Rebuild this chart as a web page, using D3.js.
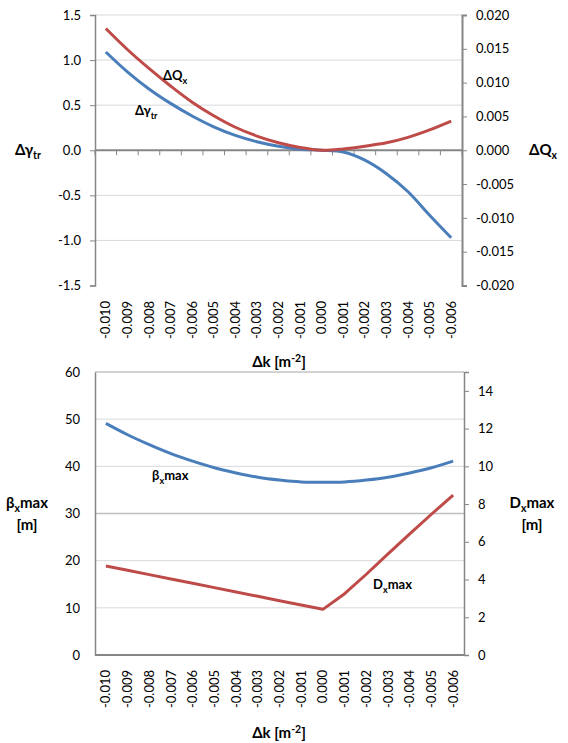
<!DOCTYPE html>
<html><head><meta charset="utf-8">
<script src="https://cdn.jsdelivr.net/npm/d3@7"></script>
<style>
body{margin:0;background:#fff}
svg{display:block}
text{font-family:Lato,"Liberation Sans",sans-serif;fill:#000}
</style>
</head><body>
<svg id="c" width="568" height="743"></svg>
<script>
// ---- data ----
const categories = ["-0.010","-0.009","-0.008","-0.007","-0.006","-0.005","-0.004","-0.003","-0.002","-0.001","0.000","-0.001","-0.002","-0.003","-0.004","-0.005","-0.006"];
const gammaTr = [1.09,0.87,0.68,0.52,0.38,0.26,0.165,0.095,0.045,0.012,0.0,-0.02,-0.11,-0.26,-0.46,-0.72,-0.97];
const deltaQx = [0.0180,0.0149,0.0121,0.0095,0.0071,0.0051,0.0034,0.0021,0.0011,0.0004,0.0,0.0002,0.0006,0.0011,0.0019,0.0030,0.0043];
const betaXmax = [49.1,46.7,44.6,42.7,41.1,39.7,38.6,37.7,37.1,36.7,36.6,36.7,37.1,37.7,38.6,39.7,41.1];
const dXmax = [4.72,4.49,4.26,4.03,3.80,3.57,3.34,3.11,2.88,2.65,2.42,3.25,4.28,5.36,6.42,7.46,8.48];
const topLeftTicks = [-1.5,-1.0,-0.5,0.0,0.5,1.0,1.5];
const topRightTicks = [-0.020,-0.015,-0.010,-0.005,0.000,0.005,0.010,0.015,0.020];
const botLeftTicks = [0,10,20,30,40,50,60];
const botRightTicks = [0,2,4,6,8,10,12,14];

const BLUE = "#4a7ebb", RED = "#be4b48", GRID = "#d9d9d9", AXIS = "#868686";
const svg = d3.select("#c");
const idx = categories.map((c,i)=>i);

function richText(g, x, y, parts, opts) {
  const t = g.append("text").attr("x", x).attr("y", y)
    .attr("font-weight", "bold").attr("font-size", opts.size)
    .attr("text-anchor", opts.anchor || "start");
  let shift = 0;
  parts.forEach(p => {
    const ts = t.append("tspan").text(p.t);
    const target = p.sub ? 4 : (p.sup ? -5 : 0);
    if (target !== shift) { ts.attr("dy", target - shift); shift = target; }
    if (p.sub || p.sup) ts.attr("font-size", opts.size * 0.7);
  });
  return t;
}

function xLabels(g, x, yTop) {
  idx.forEach(i => {
    g.append("text")
      .attr("transform", `translate(${x(i) + x.bandwidth()/2},${yTop}) rotate(-90)`)
      .attr("text-anchor", "end").attr("dy", "0.35em")
      .attr("font-size", 13).text(categories[i]);
  });
}

// ================= TOP CHART =================
{
  const g = svg.append("g");
  const x = d3.scaleBand().domain(idx).range([95, 462]);
  const yL = d3.scaleLinear().domain([-1.5, 1.5]).range([285.5, 15]);
  const yR = d3.scaleLinear().domain([-0.02, 0.02]).range([285.5, 15]);

  g.selectAll(".grid").data(topLeftTicks.filter(v => v !== 0 && v !== -1.5)).join("line")
    .attr("x1", 95).attr("x2", 462).attr("y1", d => yL(d)).attr("y2", d => yL(d))
    .attr("stroke", GRID).attr("stroke-width", 1);

  const la = g.append("g").attr("transform", "translate(95,0)")
    .call(d3.axisLeft(yL).tickValues(topLeftTicks).tickFormat(d => d.toFixed(1)).tickSize(5).tickPadding(9));
  la.select(".domain").attr("stroke", AXIS).attr("stroke-width", 1.5);
  la.selectAll(".tick line").attr("stroke", AXIS);
  la.selectAll(".tick text").attr("font-size", 13).attr("font-family", "Lato");

  const ra = g.append("g").attr("transform", "translate(462,0)")
    .call(d3.axisRight(yR).tickValues(topRightTicks).tickFormat(d => d.toFixed(3)).tickSize(5).tickPadding(9));
  ra.select(".domain").attr("stroke", AXIS).attr("stroke-width", 2);
  ra.selectAll(".tick line").attr("stroke", AXIS);
  ra.selectAll(".tick text").attr("font-size", 13).attr("font-family", "Lato");

  g.append("line").attr("x1", 95).attr("x2", 462).attr("y1", yL(0)).attr("y2", yL(0))
    .attr("stroke", AXIS).attr("stroke-width", 2);
  d3.range(idx.length + 1).forEach(i => {
    const bx = 95 + i * x.step();
    g.append("line").attr("x1", bx).attr("x2", bx).attr("y1", yL(0)).attr("y2", yL(0) + 5)
      .attr("stroke", AXIS).attr("stroke-width", 1);
  });
  xLabels(g, x, 301);

  const cx = i => x(i) + x.bandwidth()/2;
  g.append("path").datum(idx).attr("fill", "none").attr("stroke", BLUE).attr("stroke-width", 3)
    .attr("stroke-linejoin", "round")
    .attr("d", d3.line().x(cx).y(i => yL(gammaTr[i])).curve(d3.curveCatmullRom.alpha(0.5)));
  g.append("path").datum(idx).attr("fill", "none").attr("stroke", RED).attr("stroke-width", 3)
    .attr("stroke-linejoin", "round")
    .attr("d", d3.line().x(cx).y(i => yR(deltaQx[i])).curve(d3.curveCatmullRom.alpha(0.5)));

  richText(g, 15, 155, [{t:"Δγ"},{t:"tr",sub:true}], {size:15});
  richText(g, 529, 155, [{t:"ΔQ"},{t:"x",sub:true}], {size:15});
  richText(g, 163, 80, [{t:"ΔQ"},{t:"x",sub:true}], {size:13});
  richText(g, 135, 115, [{t:"Δγ"},{t:"tr",sub:true}], {size:13});
  richText(g, 279, 367, [{t:"Δk [m"},{t:"-2",sup:true},{t:"]"}], {size:15, anchor:"middle"});
}

// ================= BOTTOM CHART =================
{
  const g = svg.append("g");
  const x = d3.scaleBand().domain(idx).range([95, 464]);
  const yL = d3.scaleLinear().domain([0, 60]).range([655, 372]);
  const yR = d3.scaleLinear().domain([0, 15]).range([655, 372]);

  g.selectAll(".grid").data(botLeftTicks.filter(v => v !== 0 && v !== 60)).join("line")
    .attr("x1", 95).attr("x2", 464).attr("y1", d => yL(d)).attr("y2", d => yL(d))
    .attr("stroke", d => d === 30 ? "#bfbfbf" : GRID).attr("stroke-width", d => d === 30 ? 1.5 : 1);

  g.append("line").attr("x1", 95).attr("x2", 464).attr("y1", 372).attr("y2", 372).attr("stroke", "#a6a6a6");
  const la = g.append("g").attr("transform", "translate(95,0)")
    .call(d3.axisLeft(yL).tickValues(botLeftTicks).tickFormat(d => String(d)).tickSize(0).tickPadding(15));
  la.select(".domain").attr("stroke", AXIS).attr("stroke-width", 1.5);
  la.selectAll(".tick text").attr("font-size", 13).attr("font-family", "Lato");
  const ra = g.append("g").attr("transform", "translate(464,0)")
    .call(d3.axisRight(yR).tickValues(botRightTicks).tickFormat(d => String(d)).tickSize(5).tickPadding(9));
  ra.select(".domain").attr("stroke", AXIS).attr("stroke-width", 1.5);
  ra.selectAll(".tick line").attr("stroke", AXIS);
  ra.selectAll(".tick text").attr("font-size", 13).attr("font-family", "Lato");
  g.append("line").attr("x1", 95).attr("x2", 464).attr("y1", 655).attr("y2", 655)
    .attr("stroke", AXIS).attr("stroke-width", 2);
  xLabels(g, x, 670);

  const cx = i => x(i) + x.bandwidth()/2;
  g.append("path").datum(idx).attr("fill", "none").attr("stroke", BLUE).attr("stroke-width", 3)
    .attr("stroke-linejoin", "round")
    .attr("d", d3.line().x(cx).y(i => yL(betaXmax[i])).curve(d3.curveCatmullRom.alpha(0.5)));
  g.append("path").datum(idx).attr("fill", "none").attr("stroke", RED).attr("stroke-width", 3)
    .attr("stroke-linejoin", "round")
    .attr("d", d3.line().x(cx).y(i => yR(dXmax[i])));

  richText(g, 152, 480, [{t:"β"},{t:"x",sub:true},{t:"max"}], {size:13});
  richText(g, 373, 589, [{t:"D"},{t:"x",sub:true},{t:"max"}], {size:13});
  richText(g, 27, 508, [{t:"β"},{t:"x",sub:true},{t:"max"}], {size:15, anchor:"middle"});
  richText(g, 27, 530, [{t:"[m]"}], {size:15, anchor:"middle"});
  richText(g, 532, 508, [{t:"D"},{t:"x",sub:true},{t:"max"}], {size:15, anchor:"middle"});
  richText(g, 532, 530, [{t:"[m]"}], {size:15, anchor:"middle"});
  richText(g, 279, 738, [{t:"Δk [m"},{t:"-2",sup:true},{t:"]"}], {size:15, anchor:"middle"});
}
</script>
</body></html>
